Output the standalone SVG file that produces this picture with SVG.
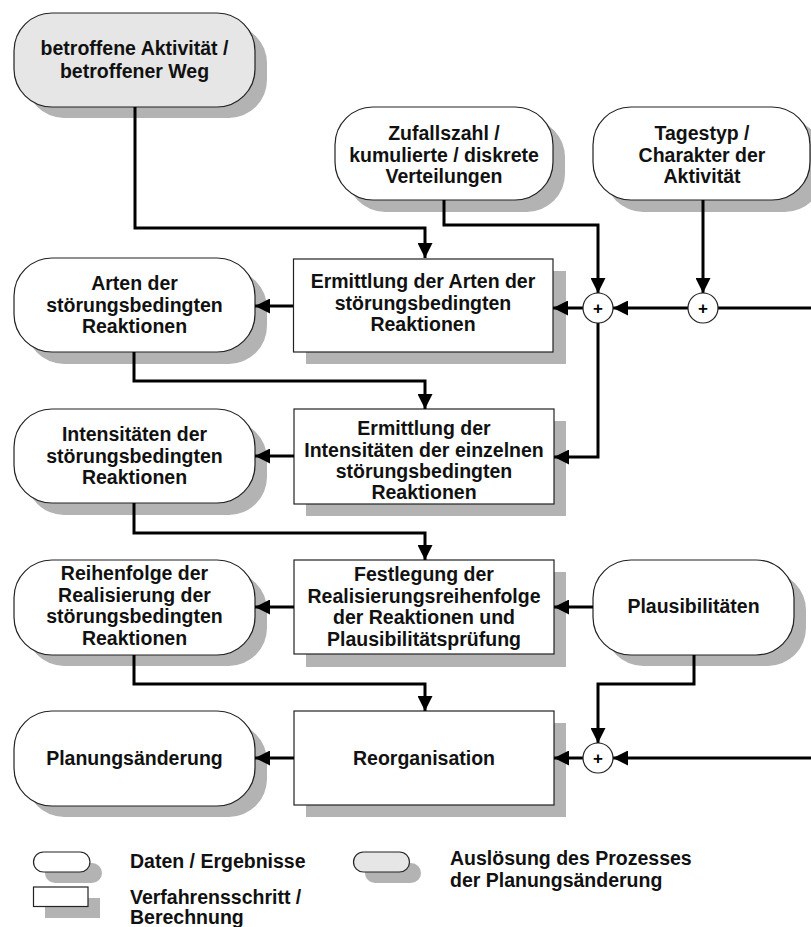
<svg xmlns="http://www.w3.org/2000/svg" width="811" height="927" viewBox="0 0 811 927">
<style>
.sh{fill:#b3b3b3;stroke:none}
.nd{fill:#fff;stroke:#222;stroke-width:1.2}
.trig{fill:#e6e6e6;stroke:#222;stroke-width:1.2}
.t{font-family:"Liberation Sans",Arial,sans-serif;font-weight:bold;font-size:19.5px;fill:#111;text-anchor:middle}
.tl{font-family:"Liberation Sans",Arial,sans-serif;font-weight:bold;font-size:19.5px;fill:#111}
.c{fill:none;stroke:#000;stroke-width:3}
.ca{fill:none;stroke:#000;stroke-width:3;marker-end:url(#ah)}
.pl{font-family:"Liberation Sans",Arial,sans-serif;font-weight:bold;font-size:17px;fill:#000;text-anchor:middle}
</style>
<defs>
<marker id="ah" viewBox="0 0 10 10" refX="10" refY="5" markerWidth="15" markerHeight="15" markerUnits="userSpaceOnUse" orient="auto"><path d="M0,0 L10,5 L0,10 z" fill="#000"/></marker>
</defs>
<rect width="811" height="927" fill="#fff"/>

<g id="n-betroffene">
<rect class="sh" x="26" y="25" width="241" height="93" rx="38"/>
<rect class="trig" x="14" y="13" width="241" height="94" rx="38"/>
<text class="t" x="134.5" y="55">betroffene Aktivität /</text>
<text class="t" x="134.5" y="78">betroffener Weg</text>
</g>

<g id="n-zufallszahl">
<rect class="sh" x="347" y="119" width="218" height="93" rx="38"/>
<rect class="nd" x="335" y="107" width="218" height="93" rx="38"/>
<text class="t" x="444" y="140">Zufallszahl /</text>
<text class="t" x="444" y="161.5">kumulierte / diskrete</text>
<text class="t" x="444" y="183">Verteilungen</text>
</g>

<g id="n-tagestyp">
<rect class="sh" x="605" y="119" width="218" height="93" rx="38"/>
<rect class="nd" x="593" y="107" width="217" height="93" rx="38"/>
<text class="t" x="702" y="140">Tagestyp /</text>
<text class="t" x="702" y="161.5">Charakter der</text>
<text class="t" x="702" y="183">Aktivität</text>
</g>

<g id="b-arten">
<rect class="sh" x="306" y="271" width="260" height="93"/>
<rect class="nd" x="293.5" y="259" width="259.5" height="93"/>
<text class="t" x="423" y="288">Ermittlung der Arten der</text>
<text class="t" x="423" y="310">störungsbedingten</text>
<text class="t" x="423" y="331">Reaktionen</text>
</g>

<g id="n-arten">
<rect class="sh" x="26" y="270" width="241" height="94" rx="38"/>
<rect class="nd" x="14" y="258" width="241" height="94" rx="38"/>
<text class="t" x="134.5" y="290">Arten der</text>
<text class="t" x="134.5" y="311.5">störungsbedingten</text>
<text class="t" x="134.5" y="333">Reaktionen</text>
</g>

<g id="b-intens">
<rect class="sh" x="306" y="421" width="260" height="95"/>
<rect class="nd" x="294" y="409" width="260" height="95"/>
<text class="t" x="424" y="435">Ermittlung der</text>
<text class="t" x="424" y="456.5">Intensitäten der einzelnen</text>
<text class="t" x="424" y="478">störungsbedingten</text>
<text class="t" x="424" y="499">Reaktionen</text>
</g>

<g id="n-intens">
<rect class="sh" x="26" y="421" width="241" height="94" rx="38"/>
<rect class="nd" x="14" y="409" width="241" height="94" rx="38"/>
<text class="t" x="134.5" y="441">Intensitäten der</text>
<text class="t" x="134.5" y="462.5">störungsbedingten</text>
<text class="t" x="134.5" y="484">Reaktionen</text>
</g>

<g id="b-festlegung">
<rect class="sh" x="306" y="572" width="260" height="95"/>
<rect class="nd" x="294" y="560" width="260" height="94"/>
<text class="t" x="424" y="581">Festlegung der</text>
<text class="t" x="424" y="602.5">Realisierungsreihenfolge</text>
<text class="t" x="424" y="624">der Reaktionen und</text>
<text class="t" x="424" y="645.5">Plausibilitätsprüfung</text>
</g>

<g id="n-reihenfolge">
<rect class="sh" x="26" y="572" width="241" height="94" rx="38"/>
<rect class="nd" x="14" y="560" width="241" height="95" rx="38"/>
<text class="t" x="134.5" y="580">Reihenfolge der</text>
<text class="t" x="134.5" y="601.5">Realisierung der</text>
<text class="t" x="134.5" y="623">störungsbedingten</text>
<text class="t" x="134.5" y="644.5">Reaktionen</text>
</g>

<g id="n-plausi">
<rect class="sh" x="605" y="572" width="201" height="94" rx="38"/>
<rect class="nd" x="593" y="560" width="201" height="95" rx="38"/>
<text class="t" x="693.5" y="613">Plausibilitäten</text>
</g>

<g id="b-reorg">
<rect class="sh" x="306" y="723" width="260" height="94"/>
<rect class="nd" x="294" y="711" width="260" height="94"/>
<text class="t" x="424" y="765">Reorganisation</text>
</g>

<g id="n-planung">
<rect class="sh" x="26" y="723" width="241" height="94" rx="38"/>
<rect class="nd" x="14" y="711" width="241" height="95" rx="38"/>
<text class="t" x="134.5" y="765">Planungsänderung</text>
</g>

<g id="connectors">
<path class="ca" d="M135,107 V228 H425 V258"/>
<path class="ca" d="M444,200 V225 H598 V293"/>
<path class="ca" d="M703,200 V293"/>
<path class="c" d="M811,308 H718"/>
<path class="ca" d="M688,308 H613"/>
<path class="ca" d="M583,308 H553"/>
<path class="ca" d="M598,323 V457 H554"/>
<path class="ca" d="M293,306 H255"/>
<path class="ca" d="M134,352 V381 H425 V409"/>
<path class="ca" d="M294,456 H255"/>
<path class="ca" d="M134,503 V533 H425 V560"/>
<path class="ca" d="M593,607 H554"/>
<path class="ca" d="M294,607 H255"/>
<path class="ca" d="M134,655 V684 H425 V711"/>
<path class="ca" d="M694,655 V684 H598 V743"/>
<path class="ca" d="M811,758 H613"/>
<path class="ca" d="M583,758 H554"/>
<path class="ca" d="M294,758 H255"/>
</g>

<g id="plus1">
<circle class="nd" cx="598" cy="308" r="15"/>
<text class="pl" x="598" y="314">+</text>
</g>
<g id="plus2">
<circle class="nd" cx="703" cy="308" r="15"/>
<text class="pl" x="703" y="314">+</text>
</g>
<g id="plus3">
<circle class="nd" cx="598" cy="758" r="15"/>
<text class="pl" x="598" y="764">+</text>
</g>

<g id="legend">
<rect class="sh" x="45" y="863" width="57" height="20" rx="10"/>
<rect class="nd" x="33.5" y="852" width="56.5" height="20" rx="10"/>
<text class="tl" x="130" y="868">Daten / Ergebnisse</text>
<rect class="sh" x="45" y="898" width="55" height="20"/>
<rect class="nd" x="33.5" y="887" width="54.5" height="19.5"/>
<text class="tl" x="130" y="904">Verfahrensschritt /</text>
<text class="tl" x="130" y="924">Berechnung</text>
<rect class="sh" x="365" y="863" width="56" height="20" rx="10"/>
<rect class="trig" x="353.5" y="852" width="56" height="20" rx="10"/>
<text class="tl" x="450" y="865">Auslösung des Prozesses</text>
<text class="tl" x="450" y="887">der Planungsänderung</text>
</g>
</svg>
